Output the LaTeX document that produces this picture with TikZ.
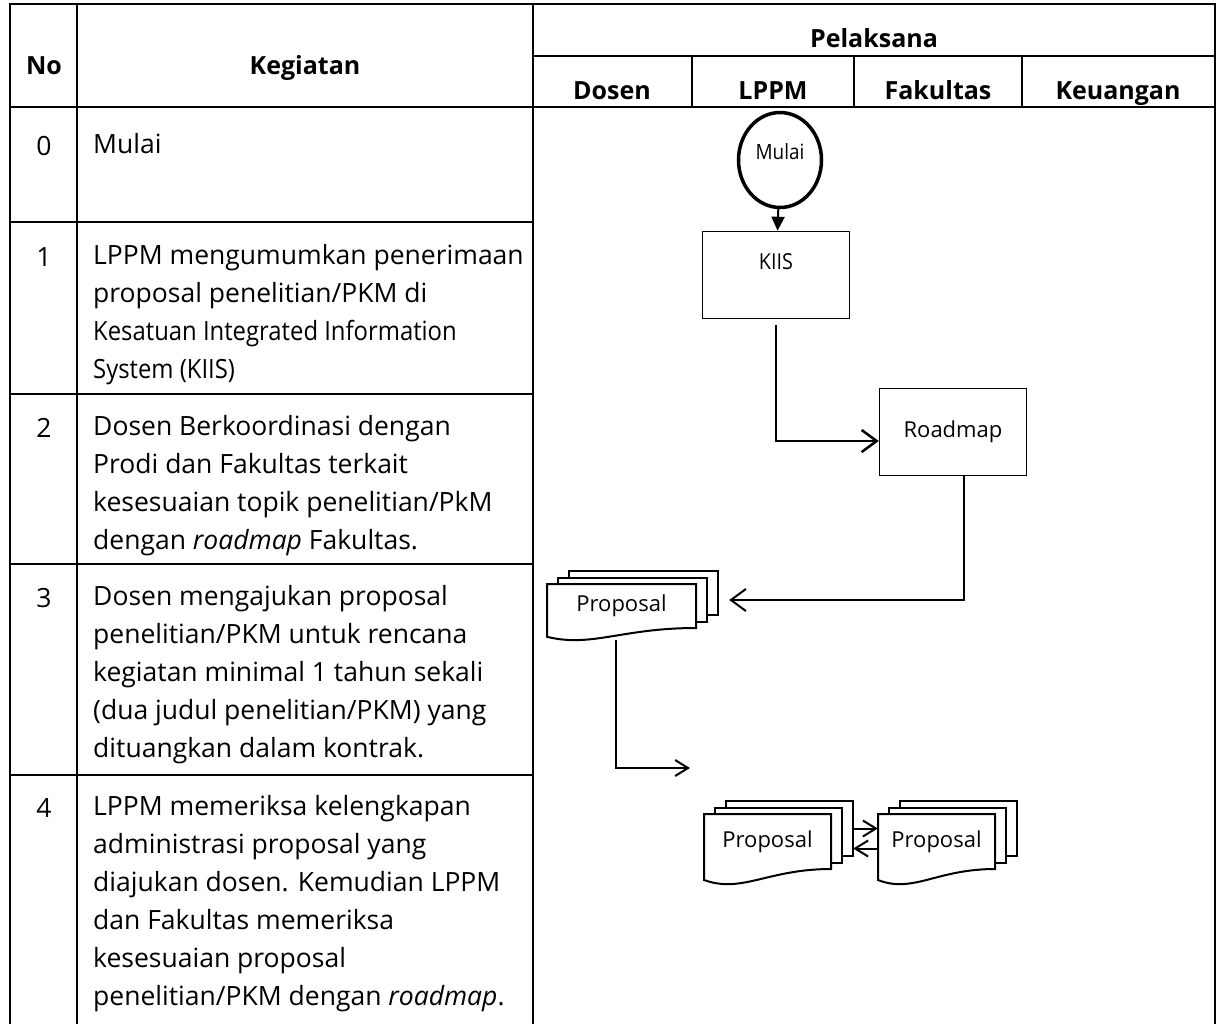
\documentclass[tikz,border=0pt]{standalone}
\usepackage{fontspec}
\setmainfont{Open Sans}
\newfontfamily\narrowfont[FakeStretch=0.9]{Open Sans}
\usetikzlibrary{arrows.meta, shapes.geometric}

% stack of three sheets: name, left, top, width, height, text
\newcommand{\docstack}[6]{%
  \foreach \k in {2,1}{
    \draw[sheet] ({#2+11*\k},{#3-6.5*\k}) rectangle ++(#4,#5);
  }
  \draw[sheet] (#2,#3) -- ++(#4,0) -- ++(0,#5)
    .. controls ({#2+0.5*#4},{#3+#5}) and ({#2+0.3*#4},{#3+1.45*#5}) .. (#2,{#3+1.2*#5}) -- cycle;
  \node[doctext, minimum width=#4, minimum height=#5] (#1) at ({#2+0.5*#4},{#3+0.5*#5}) {#6};
}

\begin{document}
\begin{tikzpicture}[x=1pt, y=-1pt,
  rule/.style={line width=2.5pt},
  head/.style={font=\bfseries\fontsize{25}{30}\selectfont, anchor=base},
  num/.style={font=\fontsize{26.5}{38}\selectfont, anchor=base},
  cell/.style={font=\fontsize{26.5}{38}\selectfont, anchor=north west, align=left, inner sep=0pt},
  box/.style={draw, line width=1.5pt, minimum width=147pt, minimum height=87pt, align=center, font=\fontsize{22}{26}\selectfont},
  flow/.style={line width=2pt, -{Straight Barb[length=15pt,width=22pt]}},
  sheet/.style={draw, fill=white, line width=2pt},
  doctext/.style={inner sep=0pt, font=\fontsize{22}{26}\selectfont}]
\useasboundingbox (0,0) rectangle (1228,1023);

% table rules
\draw[rule] (10,1040) -- (10,4) -- (1215,4) -- (1215,1040);
\draw[rule] (77,4) -- (77,1040);
\draw[rule] (533,4) -- (533,1040);
\draw[rule] (533,56) -- (1215,56);
\foreach \x in {692,854,1022} \draw[rule] (\x,56) -- (\x,107);
\draw[rule] (10,107) -- (1215,107);
\foreach \y in {222,394,564,775} \draw[rule] (10,\y) -- (533,\y);

% header
\node[head] (no) at (44,74) {No};
\node[head] (kegiatan) at (305,74) {Kegiatan};
\node[head] (pelaksana) at (874,47) {Pelaksana};
\node[head] (dosen) at (612,99) {Dosen};
\node[head] (lppm) at (773,99) {LPPM};
\node[head] (fakultas) at (938,99) {Fakultas};
\node[head] (keuangan) at (1118,99) {Keuangan};

% rows
\node[num] (n0) at (44,155) {0};
\node[cell] (k0) at (93,127) {\strut Mulai};
\node[num] (n1) at (44,266) {1};
\node[cell] (k1) at (93,238) {\strut LPPM mengumumkan penerimaan\\
  proposal penelitian/PKM di\\
  {\narrowfont Kesatuan Integrated Information}\\
  {\narrowfont System (KIIS)}};
\node[num] (n2) at (44,437) {2};
\node[cell] (k2) at (93,409) {\strut Dosen Berkoordinasi dengan\\
  Prodi dan Fakultas terkait\\
  kesesuaian topik penelitian/PkM\\
  dengan \textit{roadmap} Fakultas.};
\node[num] (n3) at (44,607) {3};
\node[cell] (k3) at (93,579) {\strut Dosen mengajukan proposal\\
  penelitian/PKM untuk rencana\\
  kegiatan minimal 1 tahun sekali\\
  (dua judul penelitian/PKM) yang\\
  dituangkan dalam kontrak.};
\node[num] (n4) at (44,817) {4};
\node[cell] (k4) at (93,789) {\strut LPPM memeriksa kelengkapan\\
  administrasi proposal yang\\
  diajukan dosen. Kemudian LPPM\\
  dan Fakultas memeriksa\\
  kesesuaian proposal\\
  penelitian/PKM dengan \textit{roadmap}.};

% flow
\node[draw, ellipse, line width=3.5pt, minimum width=83pt, minimum height=95pt, inner sep=0pt, align=center,
  font=\narrowfont\fontsize{21}{24}\selectfont] (mulai) at (780,160) {Mulai\\[-8pt]~};
\node[box, font=\narrowfont\fontsize{22}{26}\selectfont] (kiis) at (776,275) {KIIS\\~};
\node[box] (road) at (953,432) {Roadmap};
\docstack{p1}{547}{584}{149}{44}{Proposal}
\docstack{p2}{704}{814}{127}{55}{Proposal}
\docstack{p3}{878}{814}{117}{55}{Proposal}
\coordinate (c1) at (690,768);

\draw[line width=2pt, -{Triangle[length=14pt,width=13pt]}] (mulai) -- (kiis);
\draw[flow, line width=2.5pt, shorten <=6pt] (kiis.south) |- ([yshift=-9pt]road.west);
\draw[flow] ([xshift=11pt]road.south) |- ([xshift=33pt,yshift=6pt]p1.east);
\draw[flow, -{Straight Barb[length=13pt,width=16pt]}] ([xshift=-6pt,yshift=-12pt]p1.south) |- (c1);
\draw[flow, -{Straight Barb[length=13pt,width=16pt]}] ([xshift=22pt,yshift=13pt]p2.east) -- ([yshift=13pt]p3.west);
\draw[flow, -{Straight Barb[length=13pt,width=16pt]}] ([yshift=-7pt]p3.west) -- ([xshift=22pt,yshift=-7pt]p2.east);
\end{tikzpicture}
\end{document}
